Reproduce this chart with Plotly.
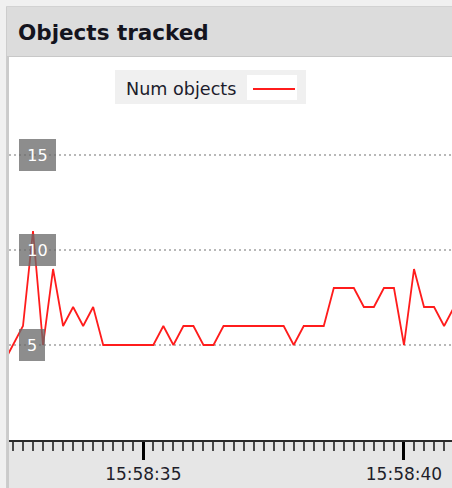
import pandas as pd
import plotly.graph_objects as go

# ---- data -------------------------------------------------------------
series_name = "Num objects"
num_objects = [4, 5, 6, 11, 5, 9, 6, 7, 6, 7,
               5, 5, 5, 5, 5, 5, 6, 5, 6, 6,
               5, 5, 6, 6, 6, 6, 6, 6, 6, 5,
               6, 6, 6, 8, 8, 8, 7, 7, 8, 8,
               5, 9, 7, 7, 6, 7]
# one sample roughly every 0.1923 s
sample_times = pd.date_range("2024-05-14 15:58:32.307700",
                             periods=len(num_objects), freq="192307us")
y_ticks = [5, 10, 15]
x_range = ["2024-05-14 15:58:32.424", "2024-05-14 15:58:40.921"]
y_range = [0, 20.16]
major_tick0 = "2024-05-14 15:58:35"

# ---- geometry (pixels) ------------------------------------------------
W, H = 452, 488
L, R, T, B = 9, 452, 57, 440


def px(x):
    return (x - L) / (R - L)


def py(y):
    return (B - y) / (B - T)


FONT = "DejaVu Sans"

fig = go.Figure()
fig.add_trace(go.Scatter(
    x=sample_times, y=num_objects, mode="lines", name=series_name,
    line=dict(color="#ff1c1c", width=1.8), showlegend=False,
    hoverinfo="skip",
))

shapes = []


def rect(x0, y0, x1, y1, fill, line_color=None, line_width=0, layer="below"):
    shapes.append(dict(
        type="rect", xref="paper", yref="paper",
        x0=px(x0), x1=px(x1), y0=py(y0), y1=py(y1),
        fillcolor=fill, layer=layer,
        line=dict(color=line_color or fill, width=line_width),
    ))


def hline(x0, x1, y, color, width, layer="below"):
    shapes.append(dict(
        type="line", xref="paper", yref="paper",
        x0=px(x0), x1=px(x1), y0=py(y), y1=py(y),
        line=dict(color=color, width=width), layer=layer,
    ))


def vline(x, y0, y1, color, width, layer="below"):
    shapes.append(dict(
        type="line", xref="paper", yref="paper",
        x0=px(x), x1=px(x), y0=py(y0), y1=py(y1),
        line=dict(color=color, width=width), layer=layer,
    ))


# panel frame and title bar
rect(6.5, 6.5, 460, 495, "rgba(0,0,0,0)", "#cdcdcd", 1)
rect(7, 7, 460, 56, "#dcdcdc")
hline(7, 460, 6.5, "#d2d2d2", 1)
hline(7, 460, 56.5, "#c8c8c8", 1.2)
# bottom axis band
rect(9, 440, 460, 495, "#e6e6e6")
# left edge of the chart body
vline(8, 57, 495, "#cbcbcb", 2)

# legend box
rect(115, 70, 306, 104, "#f0f0f0", layer="above")
rect(247, 75, 297, 100, "#ffffff", layer="above")
hline(253, 295, 89, "#ff1c1c", 1.8, layer="above")

annotations = [
    dict(text="<b>Objects tracked</b>", xref="paper", yref="paper",
         x=px(16), y=py(33), xanchor="left", yanchor="middle",
         showarrow=False, font=dict(family=FONT, size=21.5, color="#14141e")),
    dict(text=series_name, xref="paper", yref="paper",
         x=px(124), y=py(89), xanchor="left", yanchor="middle",
         showarrow=False, font=dict(family=FONT, size=17.6, color="#1c1c2c")),
]

# value labels on the y gridlines
for v in y_ticks:
    label = str(v)
    annotations.append(dict(
        text=label, xref="paper", yref="y", x=px(19), y=v,
        xanchor="left", yanchor="middle", showarrow=False,
        width=5 + 11 * len(label), height=22, borderpad=5, borderwidth=0,
        bgcolor="rgba(105,105,105,0.76)",
        font=dict(family=FONT, size=16, color="#ffffff"),
    ))

fig.update_layout(
    width=W, height=H,
    margin=dict(l=L, r=W - R, t=T, b=H - B, pad=0),
    paper_bgcolor="#f0f0f0", plot_bgcolor="#ffffff",
    shapes=shapes, annotations=annotations,
    showlegend=False,
)

fig.update_xaxes(
    type="date", range=x_range, fixedrange=True,
    showgrid=False, zeroline=False,
    showline=True, linecolor="#2a2a2a", linewidth=1.5,
    ticks="outside", ticklen=18, tickwidth=3, tickcolor="#000000",
    tick0=major_tick0, dtick=5000, tickformat="%H:%M:%S",
    tickfont=dict(family=FONT, size=17, color="#1e1e2a"),
    minor=dict(ticks="outside", ticklen=9, tickwidth=1.6,
               tickcolor="#4a4a4a", tick0=major_tick0, dtick=5000 / 26,
               showgrid=False),
)
fig.update_yaxes(
    range=y_range, fixedrange=True,
    tickmode="array", tickvals=y_ticks, showticklabels=False,
    ticks="", showline=False, zeroline=False,
    showgrid=True, gridcolor="#b8b8b8", gridwidth=1.5, griddash="2px,3px",
)

fig.write_html("out.html")
